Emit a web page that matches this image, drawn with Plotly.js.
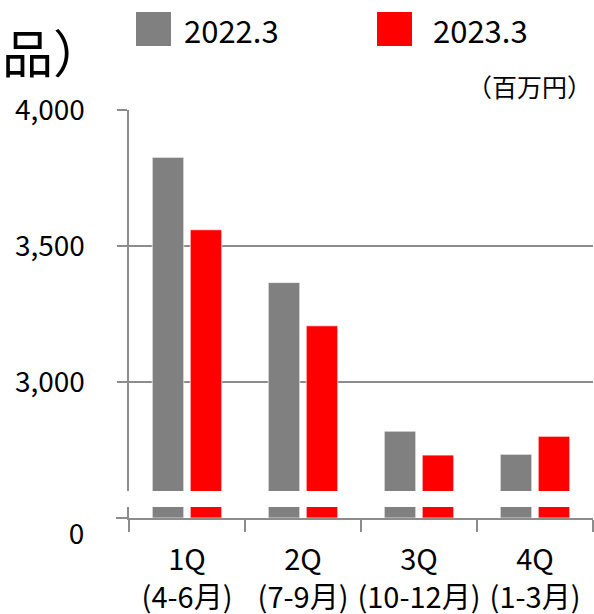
<!DOCTYPE html>
<html>
<head>
<meta charset="utf-8">
<script src="https://cdn.plot.ly/plotly-3.0.1.min.js"></script>
<style>
  html, body { margin: 0; padding: 0; background: #ffffff; }
  #chart { width: 594px; height: 614px; }
</style>
</head>
<body>
<div id="chart"></div>
<script>
// Quarterly sales (million yen), two fiscal years
const quarters = ['1Q<br>(4-6月)', '2Q<br>(7-9月)', '3Q<br>(10-12月)', '4Q<br>(1-3月)'];
const seriesNames = ['2022.3', '2023.3'];
const fy2022 = [3826, 3366, 2820, 2735];
const fy2023 = [3560, 3207, 2732, 2801];
const seriesColors = ['#808080', '#ff0000'];

// Broken value axis: a thin stub at zero and the 2,600-4,000 band above it
const upperRange = [2600, 4000];
const lowerRange = [0, 100];
const upperTicks = [3000, 3500, 4000];
const upperTickText = ['3,000', '3,500', '4,000'];

const FONT = '"Noto Sans CJK JP", "Noto Sans", sans-serif';
const AXIS_GREY = '#8c8c8c';

const seriesValues = [fy2022, fy2023];
const upperTraces = [];
const lowerTraces = [];
seriesValues.forEach((vals, i) => {
  const base = {
    type: 'bar',
    x: quarters,
    y: vals,
    name: seriesNames[i],
    marker: { color: seriesColors[i], line: { color: 'rgba(255,255,255,0.7)', width: 1 } },
    showlegend: false,
    hoverinfo: 'x+y'
  };
  upperTraces.push(Object.assign({}, base, { xaxis: 'x', yaxis: 'y2' }));
  lowerTraces.push(Object.assign({}, base, { xaxis: 'x', yaxis: 'y' }));
});

const W = 594, H = 614;
const m = { l: 129, r: 1, t: 110, b: 96 };
const pw = W - m.l - m.r, ph = H - m.t - m.b;
const px = x => (x - m.l) / pw;           // pixel x -> paper x
const py = y => (H - m.b - y) / ph;       // pixel y -> paper y

const legendShapes = seriesColors.map((c, i) => ({
  type: 'rect', xref: 'paper', yref: 'paper',
  x0: px(i === 0 ? 136 : 377), x1: px(i === 0 ? 171 : 412),
  y0: py(46), y1: py(12),
  fillcolor: c, line: { width: 0 }
}));

const annotations = [
  { text: seriesNames[0], xref: 'paper', yref: 'paper', x: px(182), y: py(29),
    xanchor: 'left', yanchor: 'middle', showarrow: false,
    font: { family: FONT, size: 31, color: '#000' } },
  { text: seriesNames[1], xref: 'paper', yref: 'paper', x: px(431), y: py(29),
    xanchor: 'left', yanchor: 'middle', showarrow: false,
    font: { family: FONT, size: 31, color: '#000' } },
  { text: '（百万円）', xref: 'paper', yref: 'paper', x: px(594), y: py(86),
    xanchor: 'right', yanchor: 'middle', showarrow: false,
    font: { family: FONT, size: 25, color: '#000' } },
  { text: '品）', xref: 'paper', yref: 'paper', x: px(0), y: py(51),
    xanchor: 'left', yanchor: 'middle', showarrow: false,
    font: { family: FONT, size: 51, color: '#000' } }
];

const layout = {
  width: W, height: H,
  margin: m,
  paper_bgcolor: '#ffffff',
  plot_bgcolor: '#ffffff',
  barmode: 'group',
  bargap: 0.345,
  bargroupgap: 0.17,
  showlegend: false,
  font: { family: FONT, color: '#000' },
  xaxis: {
    anchor: 'y',
    showline: true, linecolor: AXIS_GREY, linewidth: 2,
    ticks: 'outside', ticklen: 12, tickwidth: 2, tickcolor: AXIS_GREY,
    tickson: 'boundaries',
    tickangle: 0,
    showgrid: false,
    tickfont: { family: FONT, size: 29, color: '#000' },
    ticklabelstandoff: 15,
    fixedrange: true
  },
  yaxis: {
    domain: [0, py(507)],
    range: lowerRange,
    tickvals: [0], ticktext: ['0'],
    showline: true, linecolor: AXIS_GREY, linewidth: 2,
    ticks: 'outside', ticklen: 11, tickwidth: 2, tickcolor: AXIS_GREY,
    showgrid: false, zeroline: false,
    tickfont: { family: FONT, size: 28, color: '#000' },
    ticklabelstandoff: 26,
    ticklabelshift: 16,
    fixedrange: true
  },
  yaxis2: {
    domain: [py(491), 1],
    range: upperRange,
    anchor: 'x',
    tickvals: upperTicks, ticktext: upperTickText,
    showline: true, linecolor: AXIS_GREY, linewidth: 2.5,
    ticks: 'outside', ticklen: 10, tickwidth: 2, tickcolor: AXIS_GREY,
    showgrid: true, gridcolor: AXIS_GREY, gridwidth: 2,
    zeroline: false,
    tickfont: { family: FONT, size: 28, color: '#000' },
    ticklabelstandoff: 26,
    fixedrange: true
  },
  shapes: legendShapes,
  annotations: annotations
};

Plotly.newPlot('chart', upperTraces.concat(lowerTraces), layout,
  { displayModeBar: false, staticPlot: true });
</script>
</body>
</html>
